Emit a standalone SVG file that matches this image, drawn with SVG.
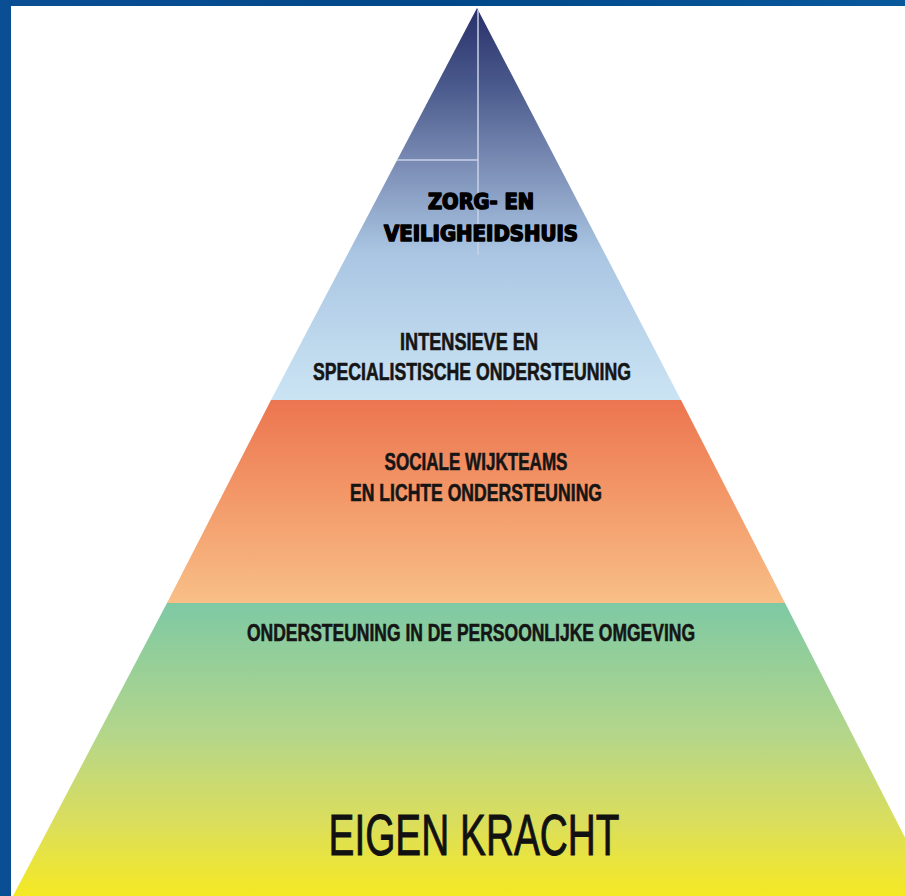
<svg xmlns="http://www.w3.org/2000/svg" width="905" height="896" viewBox="0 0 905 896">
  <style>
    .lbl { font-family: "Liberation Sans", Arial, sans-serif; font-weight: bold; fill: #151515; stroke: #151515; stroke-width: 0.6; text-anchor: middle; }
    .heavy { font-family: "DejaVu Sans", "Liberation Sans", sans-serif; font-weight: 900; fill: #000; stroke: #000; stroke-width: 1.6; stroke-linejoin: round; text-anchor: middle; }
    .big { font-family: "Liberation Sans", Arial, sans-serif; font-weight: normal; fill: #111; stroke: #111; stroke-width: 0.9; text-anchor: middle; }
  </style>
  <defs>
    <linearGradient id="frame" x1="0" y1="0" x2="1" y2="0">
      <stop offset="0" stop-color="#0a4e94"/>
      <stop offset="0.5" stop-color="#004889"/>
      <stop offset="1" stop-color="#08589c"/>
    </linearGradient>
    <linearGradient id="gTop" x1="0" y1="8" x2="0" y2="400" gradientUnits="userSpaceOnUse">
      <stop offset="0" stop-color="#29306a"/>
      <stop offset="0.2" stop-color="#4a5a8c"/>
      <stop offset="0.4" stop-color="#7b8db5"/>
      <stop offset="0.62" stop-color="#a9c5e2"/>
      <stop offset="1" stop-color="#cbe4f4"/>
    </linearGradient>
    <linearGradient id="gMid" x1="0" y1="400" x2="0" y2="603" gradientUnits="userSpaceOnUse">
      <stop offset="0" stop-color="#ec7550"/>
      <stop offset="0.5" stop-color="#f39a6a"/>
      <stop offset="1" stop-color="#f8bf86"/>
    </linearGradient>
    <linearGradient id="gBot" x1="0" y1="603" x2="0" y2="896" gradientUnits="userSpaceOnUse">
      <stop offset="0" stop-color="#7ec9a4"/>
      <stop offset="0.45" stop-color="#b4d68a"/>
      <stop offset="0.75" stop-color="#dbde5c"/>
      <stop offset="1" stop-color="#f5e923"/>
    </linearGradient>
  </defs>

  <rect x="0" y="0" width="905" height="896" fill="url(#frame)"/>
  <rect x="11" y="6" width="894" height="890" fill="#ffffff"/>

  <g id="layer-top">
    <polygon points="477,8 271,400 681,400" fill="url(#gTop)"/>
    <line x1="478" y1="10" x2="478" y2="255" stroke="#c8d2e8" stroke-width="2" stroke-opacity="0.75"/>
    <line x1="397" y1="160" x2="478" y2="160" stroke="#c8d2e8" stroke-width="2" stroke-opacity="0.75"/>
    <text class="heavy" x="481" y="209" font-size="21" textLength="106" lengthAdjust="spacingAndGlyphs">ZORG- EN</text>
    <text class="heavy" x="481" y="241" font-size="21" textLength="194" lengthAdjust="spacingAndGlyphs">VEILIGHEIDSHUIS</text>
    <text class="lbl" x="469" y="350" font-size="24" textLength="138" lengthAdjust="spacingAndGlyphs">INTENSIEVE EN</text>
    <text class="lbl" x="472" y="380" font-size="24" textLength="318" lengthAdjust="spacingAndGlyphs">SPECIALISTISCHE ONDERSTEUNING</text>
  </g>

  <g id="layer-middle">
    <polygon points="271,400 681,400 785,603 167,603" fill="url(#gMid)"/>
    <text class="lbl" x="476" y="470" font-size="24" textLength="183" lengthAdjust="spacingAndGlyphs">SOCIALE WIJKTEAMS</text>
    <text class="lbl" x="476" y="501" font-size="24" textLength="252" lengthAdjust="spacingAndGlyphs">EN LICHTE ONDERSTEUNING</text>
  </g>

  <g id="layer-bottom">
    <polygon points="167,603 785,603 935,896 13,896" fill="url(#gBot)"/>
    <text class="lbl" x="471" y="641" font-size="24" textLength="448" lengthAdjust="spacingAndGlyphs">ONDERSTEUNING IN DE PERSOONLIJKE OMGEVING</text>
    <text class="big" x="474" y="855" font-size="58" textLength="291" lengthAdjust="spacingAndGlyphs">EIGEN KRACHT</text>
  </g>

  <g id="connectors"></g>
</svg>
